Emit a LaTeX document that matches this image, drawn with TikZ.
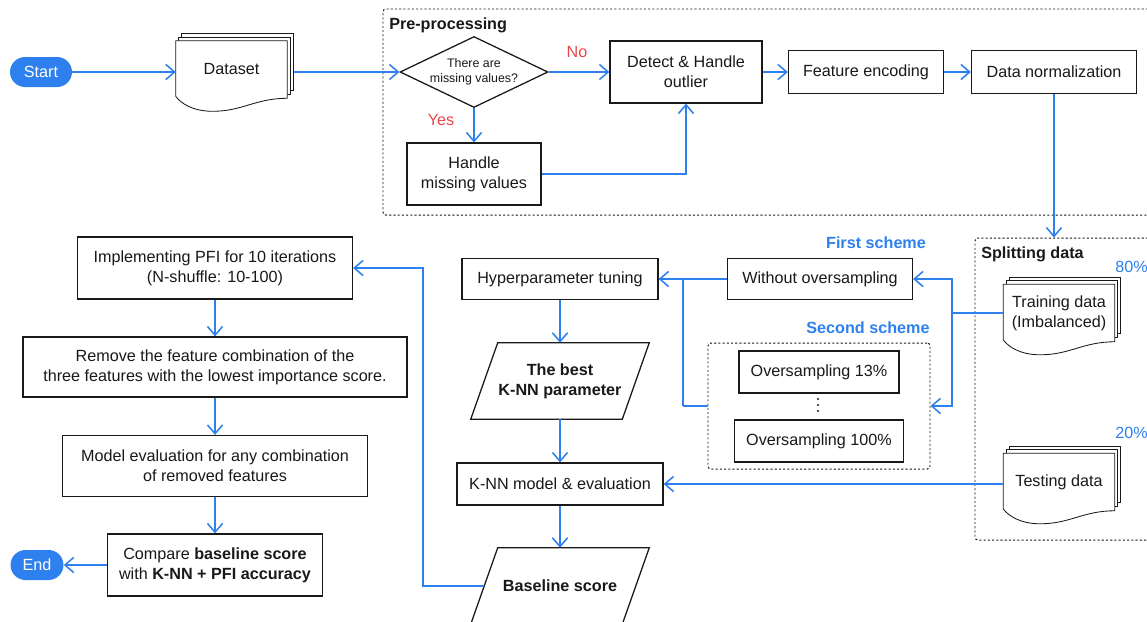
\documentclass[tikz,border=0pt]{standalone}
\usepackage{fontspec}
\setmainfont{Liberation Sans}
\usetikzlibrary{arrows.meta,shapes.geometric,calc,backgrounds}
\definecolor{flowblue}{RGB}{45,128,237}
\definecolor{answerred}{RGB}{232,72,72}
\definecolor{inkline}{RGB}{25,25,25}
\newcommand{\pxu}{0.025cm}
\newcommand{\mainsize}{\fontsize{11.5}{14}\selectfont}

% stacked document pages behind a node
\newcommand{\pagestack}[1]{%
  \foreach \k in {2,1}
    \draw[page] ($(#1.north west)+(3*\k,-3.5*\k)$) rectangle ($(#1.south east)+(3*\k,-4*\k)$);
  \draw[page] (#1.north west) -- (#1.north east) -- (#1.south east)
    .. controls +(-32,0) and +(30,0) .. ($(#1.south west)+(37,13)$)
    .. controls +(-20,0) and +(5,7) .. ($(#1.south west)+(0,-2)$) -- cycle;
}
% slanted data box behind a node
\newcommand{\slantbox}[1]{%
  \draw[boxline] ($(#1.north west)+(13.5,0)$) -- ($(#1.north east)+(13.5,0)$)
    -- ($(#1.south east)+(-13.5,0)$) -- ($(#1.south west)+(-13.5,0)$) -- cycle;
}

\begin{document}
\begin{tikzpicture}[
  x=0.025cm, y=-0.025cm,
  font=\mainsize,
  every node/.style={inner sep=0pt, align=center, text=inkline},
  boxline/.style={draw=inkline, line width=0.9pt, fill=white},
  box/.style={boxline, minimum height=42*\pxu},
  decision/.style={diamond, boxline, aspect=2.1,
    minimum width=148*\pxu, minimum height=71*\pxu, font=\fontsize{8.8}{11}\selectfont},
  data/.style={minimum width=151*\pxu, minimum height=76*\pxu, font=\mainsize\bfseries},
  doc/.style={minimum width=111*\pxu, minimum height=57*\pxu},
  page/.style={draw=inkline, line width=0.6pt, fill=white},
  group/.style={draw=black!90, line width=0.7pt, dash pattern=on 1.5pt off 1.5pt,
    rounded corners=2pt},
  terminal/.style={fill=flowblue, text=white, rounded corners=0.375cm,
    minimum height=30*\pxu},
  title/.style={font=\mainsize\bfseries, anchor=west},
  scheme/.style={font=\mainsize\bfseries, text=flowblue},
  pct/.style={text=flowblue, anchor=west},
  answer/.style={text=answerred},
  link/.style={draw=flowblue, line width=1.1pt},
  flow/.style={link, -{Straight Barb[length=2.2mm,width=3.8mm]}},
]
\useasboundingbox (0,0) rectangle (1147,621);

% ---- Groups ----
\node (pre)   at (769,112)  [group, minimum width=772*\pxu, minimum height=206*\pxu] {};
\node (split) at (1065,389) [group, minimum width=180*\pxu, minimum height=302*\pxu] {};
\node (pretitle)   at (389,25)  [title] {Pre-processing};
\node (splittitle) at (981,254) [title] {Splitting data};

% ---- Top row ----
\node (start)   at (41,72)    [terminal, minimum width=62*\pxu] {Start};
\node (ds)      at (231.5,69.5) [doc] {Dataset};
\node (ask)     at (474,72)   [decision] {There are\\missing values?};
\node (outlier) at (686,72)   [box, minimum width=152*\pxu, minimum height=62*\pxu] {Detect \& Handle\\outlier};
\node (missing) at (474,174)  [box, minimum width=134*\pxu, minimum height=62*\pxu] {Handle\\missing values};
\node (enc)     at (866,72)   [box, minimum width=155*\pxu, minimum height=43*\pxu] {Feature encoding};
\node (norm)    at (1054,72)  [box, minimum width=165*\pxu, minimum height=43*\pxu] {Data normalization};
\node (no)      at (577,52)   [answer] {No};
\node (yes)     at (441,120)  [answer] {Yes};

% ---- Splitting ----
\node (train) at (1059,313) [doc] {Training data\\(Imbalanced)};
\node (test)  at (1059,482) [doc] {Testing data};
\node (p80)   at (1115,267) [pct] {80\%};
\node (p20)   at (1115,433) [pct] {20\%};

% ---- Schemes ----
\node (first)   at (876,243) [scheme] {First scheme};
\node (noover)  at (820,279) [box, minimum width=185*\pxu, minimum height=41*\pxu] {Without oversampling};
\node (second)  at (868,328) [scheme] {Second scheme};
\node (overgrp) at (819,406) [group, minimum width=222*\pxu, minimum height=126*\pxu] {};
\node (os13)    at (819,372) [box, minimum width=160*\pxu] {Oversampling 13\%};
\node (os100)   at (819,441) [box, minimum width=169*\pxu] {Oversampling 100\%};
\foreach \d in {-6,0,6}
  \fill[inkline] (818,405+\d) circle (1.1);

% ---- Middle column ----
\node (tune) at (560,279) [box, minimum width=196*\pxu, minimum height=41*\pxu] {Hyperparameter tuning};
\node (best) at (560,381) [data] {The best\\K-NN parameter};
\node (knn)  at (560,484) [box, minimum width=206*\pxu] {K-NN model \& evaluation};
\node (base) at (560,586) [data] {Baseline score};

% ---- Left column ----
\node (pfi)    at (215,268) [box, minimum width=275*\pxu, minimum height=62*\pxu] {Implementing PFI for 10 iterations\\(N-shuffle: 10-100)};
\node (remove) at (215,367) [box, minimum width=384*\pxu, minimum height=60*\pxu] {Remove the feature combination of the\\three features with the lowest importance score.};
\node (eval)   at (215,466) [box, minimum width=305*\pxu, minimum height=61*\pxu] {Model evaluation for any combination\\of removed features};
\node (cmp)    at (215,565) [box, minimum width=215*\pxu, minimum height=62*\pxu] {Compare \textbf{baseline score}\\with \textbf{K-NN + PFI accuracy}};
\node (end)    at (37,565)  [terminal, minimum width=53*\pxu] {End};

% ---- Document pages and data boxes ----
\begin{scope}[on background layer]
  \pagestack{ds}
  \pagestack{train}
  \pagestack{test}
  \slantbox{best}
  \slantbox{base}
\end{scope}

% ---- Edges ----
\draw[flow] (start.east) -- (start.east -| ds.west);
\draw[flow] ($(ask.west -| ds.east)+(7,0)$) -- (ask.west);
\draw[flow] (ask.east) -- (outlier.west);
\draw[flow] (ask.south) -- (missing.north);
\draw[flow] (missing.east) -| (outlier.south);
\draw[flow] (outlier.east) -- (enc.west);
\draw[flow] (enc.east) -- (norm.west);
\draw[flow] (norm.south) -- (norm.south |- split.north);

\draw[link] (train.west) -- ++(-51,0) coordinate (fork);
\draw[flow] (fork) |- (noover.east);
\draw[flow] (fork) |- (overgrp.east);
\draw[link] (overgrp.west) -- ++(-24.5,0) coordinate (merge);
\draw[link] (merge) |- (tune.east);
\draw[flow] (noover.west) -- (tune.east);

\draw[flow] (tune) -- (best);
\draw[flow] (best) -- (knn);
\draw[flow] (test.west |- knn.east) -- (knn.east);
\draw[flow] (knn) -- (base);
\draw[flow] (base.west) -- ++(-61,0) |- (pfi.east);

\foreach \a/\b in {pfi/remove, remove/eval, eval/cmp}
  \draw[flow] (\a) -- (\b);
\draw[flow] (cmp) -- (end);

\end{tikzpicture}
\end{document}
